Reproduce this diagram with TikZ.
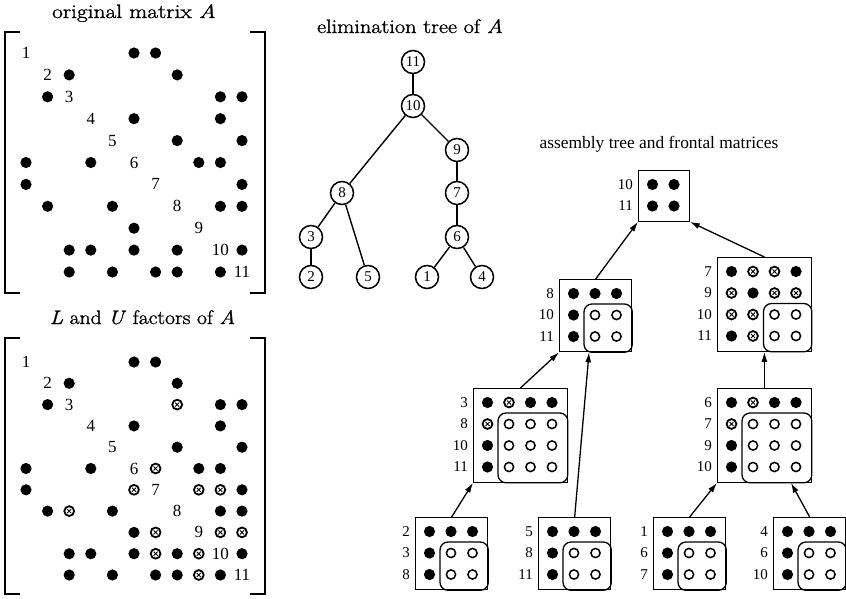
\documentclass[tikz,border=0pt]{standalone}
\usepackage{fontspec}
\newfontfamily\timesfont{Liberation Serif}
\newfontfamily\titlefont[FakeBold=1.2]{Latin Modern Roman}
\usetikzlibrary{calc,arrows.meta}

\tikzset{
  title/.style={font=\titlefont\fontsize{19.5}{21}\selectfont, anchor=base, inner sep=0pt},
  asmtitle/.style={font=\timesfont\fontsize{17.4}{19}\selectfont, anchor=base, inner sep=0pt},
  diaglab/.style={font=\timesfont\fontsize{17}{18}\selectfont, inner sep=0pt},
  bracket/.style={line width=2pt},
  etree/.style={circle, draw, line width=1.5pt, minimum size=23pt, inner sep=0pt,
                font=\timesfont\fontsize{15}{15}\selectfont},
  tedge/.style={line width=1.4pt},
  fbox/.style={draw, line width=1.3pt, inner sep=0pt, anchor=north west},
  flab/.style={font=\timesfont\fontsize{15}{16}\selectfont, anchor=east, inner sep=0pt},
  fblock/.style={line width=1.3pt, rounded corners=8pt},
  asm/.style={line width=1.3pt, -{Latex[length=10pt,width=6pt]}},
}

% matrix entries: filled (original), open (update block), crossed (fill-in)
\newcommand\entf[1]{\fill (#1) circle (5.6pt);}
\newcommand\ento[1]{\draw[line width=1.5pt] (#1) circle (4.6pt);}
\newcommand\entx[1]{\draw[line width=1.8pt] (#1) circle (4.9pt);
  \draw[line width=0.9pt] ($(#1)+(-2,-2)$) -- ($(#1)+(2,2)$) ($(#1)+(-2,2)$) -- ($(#1)+(2,-2)$);}

% frontal matrix: name, left, top, order, row labels, entries, first row of block (0 = none)
\newcommand\frontbox[7]{%
  \pgfmathsetmacro\fsize{29+(#4-1)*21.5}
  \node[fbox, minimum width=\fsize pt, minimum height=\fsize pt] (#1) at (#2,#3) {};
  \foreach \lab [count=\ri] in {#5} {
    \node[flab] (#1-\ri) at ({#2-5},{#3+14.5+(\ri-1)*21.5}) {\lab};
  }
  \foreach \ty [count=\kk from 0] in {#6} {
    \pgfmathtruncatemacro\rr{div(\kk,#4)}
    \pgfmathtruncatemacro\cc{mod(\kk,#4)}
    \coordinate (q) at ({#2+14.5+\cc*21.5},{#3+14.5+\rr*21.5});
    \csname ent\ty\endcsname{q}
  }
  \ifnum#7>0
    \draw[fblock] ({#2+14.5+(#7-1)*21.5-11},{#3+14.5+(#7-1)*21.5-11}) rectangle (#1.south east);
  \fi
}

\begin{document}
\begin{tikzpicture}[x=1pt,y=-1pt]
\useasboundingbox (0,0) rectangle (846,598);

% ---------- original matrix A ----------
\node[title, xscale=1.2] (tA) at (134,18) {original matrix \textit{A}};
\draw[bracket] (20,32) -- (5,32) -- (5,293) -- (20,293);
\draw[bracket] (250,32) -- (265,32) -- (265,293) -- (250,293);
\foreach \ri in {1,...,11}
  \node[diaglab] (a\ri) at ({26+(\ri-1)*21.6},{53+(\ri-1)*21.9}) {\ri};
\foreach \ri/\ci in {1/6,1/7, 2/3,2/8, 3/2,3/10,3/11, 4/6,4/10, 5/8,5/11,
    6/1,6/4,6/9,6/10, 7/1,7/11, 8/2,8/5,8/10,8/11, 9/6,
    10/3,10/4,10/6,10/8,10/11, 11/3,11/5,11/7,11/8,11/10}
  \fill ({26+(\ci-1)*21.6},{53+(\ri-1)*21.9}) circle (5.6pt);

% ---------- L and U factors ----------
\node[title, xscale=1.11] (tLU) at (142.5,324) {\textit{L} and \textit{U} factors of \textit{A}};
\draw[bracket] (20,338) -- (5,338) -- (5,594) -- (20,594);
\draw[bracket] (250,338) -- (265,338) -- (265,594) -- (250,594);
\foreach \ri in {1,...,11}
  \node[diaglab] (lu\ri) at ({26+(\ri-1)*21.6},{362+(\ri-1)*21.3}) {\ri};
\foreach \ri/\ci in {1/6,1/7, 2/3,2/8, 3/2,3/10,3/11, 4/6,4/10, 5/8,5/11,
    6/1,6/4,6/9,6/10, 7/1,7/11, 8/2,8/5,8/10,8/11, 9/6,
    10/3,10/4,10/6,10/8,10/11, 11/3,11/5,11/7,11/8,11/10}
  \fill ({26+(\ci-1)*21.6},{362+(\ri-1)*21.3}) circle (5.6pt);
\foreach \ri/\ci in {3/8,8/3, 6/7,7/6, 7/9,9/7, 7/10,10/7, 9/10,10/9, 9/11,11/9} {
  \coordinate (q) at ({26+(\ci-1)*21.6},{362+(\ri-1)*21.3});
  \entx{q}
}

% ---------- elimination tree ----------
\node[title, xscale=1.14] (tE) at (410,33) {elimination tree of \textit{A}};
\node[etree] (e11) at (413,62) {11};
\node[etree] (e10) at (413,106) {10};
\node[etree] (e9) at (457,150) {9};
\node[etree] (e8) at (342,193) {8};
\node[etree] (e7) at (457,193) {7};
\node[etree] (e3) at (311,237) {3};
\node[etree] (e6) at (457,237) {6};
\node[etree] (e2) at (311,277) {2};
\node[etree] (e5) at (368,277) {5};
\node[etree] (e1) at (427,277) {1};
\node[etree] (e4) at (482,277) {4};
\draw[tedge] (e11) -- (e10);
\draw[tedge] (e10) -- (e8);
\draw[tedge] (e10) -- (e9);
\draw[tedge] (e9) -- (e7);
\draw[tedge] (e7) -- (e6);
\draw[tedge] (e8) -- (e3);
\draw[tedge] (e8) -- (e5);
\draw[tedge] (e3) -- (e2);
\draw[tedge] (e6) -- (e1);
\draw[tedge] (e6) -- (e4);

% ---------- assembly tree and frontal matrices ----------
\node[asmtitle] (tF) at (659,148) {assembly tree and frontal matrices};
\frontbox{f10}{638}{170}{2}{10,11}{f,f,f,f}{0}
\frontbox{f8}{559}{279}{3}{8,10,11}{f,f,f, f,o,o, f,o,o}{2}
\frontbox{f7}{717}{257}{4}{7,9,10,11}{f,x,x,f, x,f,x,x, x,x,o,o, f,x,o,o}{3}
\frontbox{f3}{473}{388}{4}{3,8,10,11}{f,x,f,f, x,o,o,o, f,o,o,o, f,o,o,o}{2}
\frontbox{f6}{717}{388}{4}{6,7,9,10}{f,x,f,f, x,o,o,o, f,o,o,o, f,o,o,o}{2}
\frontbox{f2}{415}{517}{3}{2,3,8}{f,f,f, f,o,o, f,o,o}{2}
\frontbox{f5}{538}{517}{3}{5,8,11}{f,f,f, f,o,o, f,o,o}{2}
\frontbox{f1}{653}{517}{3}{1,6,7}{f,f,f, f,o,o, f,o,o}{2}
\frontbox{f4}{773}{517}{3}{4,6,10}{f,f,f, f,o,o, f,o,o}{2}

\draw[asm] (f2.north) -- (f3.south west);
\draw[asm] (f5.north) -- ($(f8.south west)!0.41!(f8.south east)$);
\draw[asm] (f3.north) -- (f8.south west);
\draw[asm] (f1.north) -- (f6.south west);
\draw[asm] (f4.north) -- ($(f6.south west)!0.78!(f6.south east)$);
\draw[asm] (f6.north) -- (f7.south);
\draw[asm] (f8.north) -- (f10.south west);
\draw[asm] (f7.north) -- (f10.south east);
\end{tikzpicture}
\end{document}
